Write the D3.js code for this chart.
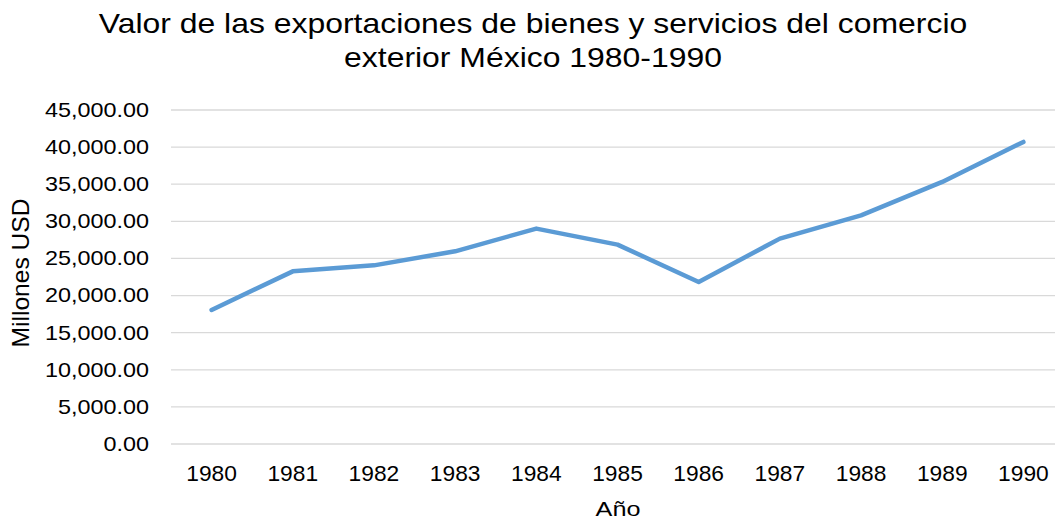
<!DOCTYPE html>
<html>
<head>
<meta charset="utf-8">
<script src="https://cdnjs.cloudflare.com/ajax/libs/d3/7.8.5/d3.min.js"></script>
<style>
  body { margin: 0; background: #fff; overflow: hidden; }
  text { font-family: "Liberation Sans", Arial, sans-serif; fill: #000; }
</style>
</head>
<body>
<script>
// data
var years = ["1980", "1981", "1982", "1983", "1984", "1985", "1986", "1987", "1988", "1989", "1990"];
var exportsValue = [18060, 23260, 24070, 25960, 29020, 26860, 21830, 27670, 30810, 35310, 40700];
var yTicks = [0, 5000, 10000, 15000, 20000, 25000, 30000, 35000, 40000, 45000];
var titleLines = ["Valor de las exportaciones de bienes y servicios del comercio", "exterior México 1980-1990"];

var W = 1055, H = 523;
var margin = {top: 110, right: -9, bottom: 79, left: 171},
    width = W - margin.left - margin.right,
    height = H - margin.top - margin.bottom;

var svg = d3.select("body").append("svg")
    .attr("width", W)
    .attr("height", H);

var g = svg.append("g")
    .attr("transform", "translate(" + margin.left + "," + margin.top + ")");

// the reference text is a bit wider than Arial, stretch it horizontally
function stretch(sel, sx) {
  sel.each(function() {
    var t = d3.select(this);
    var tx = +t.attr("x") || 0, ty = +t.attr("y") || 0;
    t.attr("transform", "translate(" + tx + "," + ty + ") scale(" + sx + ",1) translate(" + (-tx) + "," + (-ty) + ")");
  });
}

// scales
var x = d3.scaleBand().domain(years).range([0, width]);
var y = d3.scaleLinear().domain([0, 45000]).range([height, 0]);

// gridlines
g.selectAll(".grid")
    .data(yTicks)
  .enter().append("line")
    .attr("x1", 0)
    .attr("x2", width)
    .attr("y1", function(d) { return y(d); })
    .attr("y2", function(d) { return y(d); })
    .attr("stroke", "#d9d9d9")
    .attr("stroke-width", 1.3);

// y axis labels
var yAxis = g.append("g")
    .call(d3.axisLeft(y).tickValues(yTicks).tickSize(0).tickPadding(22)
      .tickFormat(d3.format(",.2f")));
yAxis.select(".domain").remove();
yAxis.selectAll("text")
    .style("font-family", "'Liberation Sans', Arial, sans-serif")
    .style("font-size", "20px")
    .attr("fill", "#000")
    .call(stretch, 1.17);

// x axis labels
var xAxis = g.append("g")
    .attr("transform", "translate(0," + height + ")")
    .call(d3.axisBottom(x).tickSize(0).tickPadding(22));
xAxis.select(".domain").remove();
xAxis.selectAll("text")
    .style("font-family", "'Liberation Sans', Arial, sans-serif")
    .style("font-size", "21.5px")
    .attr("fill", "#000")
    .call(stretch, 1.06);

// the line
var valueline = d3.line()
    .x(function(d, i) { return x(years[i]) + x.bandwidth() / 2; })
    .y(function(d) { return y(d); });

g.append("path")
    .datum(exportsValue)
    .attr("fill", "none")
    .attr("stroke", "#5b9bd5")
    .attr("stroke-width", 4.5)
    .attr("stroke-linejoin", "round")
    .attr("stroke-linecap", "round")
    .attr("d", valueline);

// title
svg.selectAll(".title")
    .data(titleLines)
  .enter().append("text")
    .attr("class", "title")
    .attr("x", 533)
    .attr("y", function(d, i) { return 33 + i * 34; })
    .attr("text-anchor", "middle")
    .style("font-size", "28.5px")
    .text(function(d) { return d; })
    .call(stretch, 1.12);

// axis titles
svg.append("text")
    .attr("transform", "translate(28.5,273) rotate(-90) scale(1.07,1)")
    .attr("text-anchor", "middle")
    .style("font-size", "23px")
    .text("Millones USD");

svg.append("text")
    .attr("x", 618)
    .attr("y", 516.5)
    .attr("text-anchor", "middle")
    .style("font-size", "21px")
    .text("Año")
    .call(stretch, 1.2);
</script>
</body>
</html>
